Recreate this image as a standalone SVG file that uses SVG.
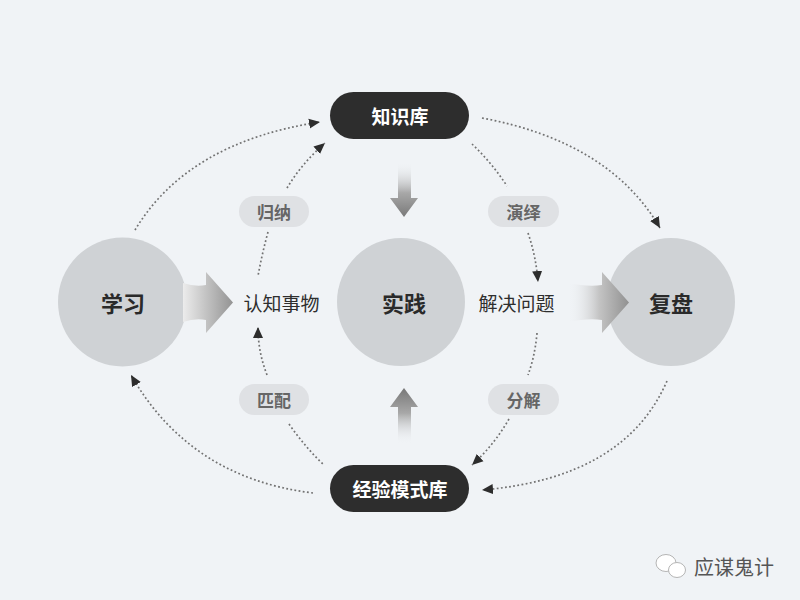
<svg xmlns="http://www.w3.org/2000/svg" width="800" height="600" viewBox="0 0 800 600">
<style>
.bg{fill:#f0f3f6}
.circle{fill:#cfd2d5}
.dark{fill:#2d2d2d}
.soft{fill:#dfe1e4}
.t{font-family:"Noto Sans CJK SC","Noto Sans",sans-serif;text-anchor:middle;dominant-baseline:central}
.tw{fill:#ffffff;font-size:19px;font-weight:bold}
.tc{fill:#2a2a2a;font-size:22px;font-weight:bold}
.tm{fill:#2e2e2e;font-size:19px}
.ts{fill:#666666;font-size:17px;font-weight:bold}
.dot{fill:none;stroke:#727272;stroke-width:1.7;stroke-dasharray:1.8 2.4}
.arr{marker-end:url(#ah)}
</style>
<defs>
<marker id="ah" markerUnits="userSpaceOnUse" markerWidth="12" markerHeight="12" refX="11" refY="5" orient="auto" viewBox="0 0 12 10">
<path d="M0,0 L11,5 L0,10 Z" fill="#2d2d2d"/>
</marker>
<linearGradient id="gL" x1="183" y1="0" x2="233" y2="0" gradientUnits="userSpaceOnUse">
<stop offset="0" stop-color="#ececec"/>
<stop offset="0.45" stop-color="#c4c4c4"/>
<stop offset="1" stop-color="#939393"/>
</linearGradient>
<linearGradient id="gR" x1="568" y1="0" x2="630" y2="0" gradientUnits="userSpaceOnUse">
<stop offset="0" stop-color="#f0f3f6" stop-opacity="0"/>
<stop offset="0.5" stop-color="#c4c4c4"/>
<stop offset="1" stop-color="#8f8f8f"/>
</linearGradient>
<linearGradient id="gD" x1="0" y1="162" x2="0" y2="218" gradientUnits="userSpaceOnUse">
<stop offset="0" stop-color="#f0f3f6" stop-opacity="0"/>
<stop offset="0.55" stop-color="#a8a8a8"/>
<stop offset="1" stop-color="#777777"/>
</linearGradient>
<linearGradient id="gU" x1="0" y1="444" x2="0" y2="388" gradientUnits="userSpaceOnUse">
<stop offset="0" stop-color="#f0f3f6" stop-opacity="0"/>
<stop offset="0.55" stop-color="#a8a8a8"/>
<stop offset="1" stop-color="#777777"/>
</linearGradient>
</defs>
<rect class="bg" x="0" y="0" width="800" height="600"/>

<g id="connectors">
<path class="dot arr" d="M135,230 Q188,142 320,122"/>
<path class="dot arr" d="M287,188 Q302,163 325,143"/>
<path class="dot" d="M268,232 Q262,254 258,276"/>
<path class="dot arr" d="M267,375 Q258,352 258,327"/>
<path class="dot" d="M289,424 Q305,447 324,465"/>
<path class="dot arr" d="M313,493 Q190,478 131,375"/>
<path class="dot arr" d="M482,118 Q610,142 660,228"/>
<path class="dot" d="M472,144 Q492,163 507,186"/>
<path class="dot arr" d="M528,233 Q536,256 538,282"/>
<path class="dot" d="M537,333 Q535,356 528,375"/>
<path class="dot arr" d="M509,419 Q494,445 472,465"/>
<path class="dot arr" d="M667,381 Q625,478 482,490"/>
</g>

<g id="node-xuexi">
<circle class="circle" cx="122.5" cy="302" r="64.5"/>
<text class="t tc" x="123" y="302">学习</text>
</g>
<g id="arrow-left">
<path d="M183,283 Q195,287 206,285 L206,272 L233,302.5 L206,333 L206,320 Q195,318 183,322 Z" fill="url(#gL)"/>
</g>
<g id="node-shijian">
<circle class="circle" cx="401" cy="302" r="64"/>
<text class="t tc" x="404" y="302">实践</text>
</g>
<g id="node-fupan">
<circle class="circle" cx="671" cy="302" r="64"/>
<text class="t tc" x="671" y="302">复盘</text>
</g>
<g id="arrow-right">
<path d="M568,283 Q588,287 602,285 L602,272 L629,302.5 L602,333 L602,320 Q588,318 568,322 Z" fill="url(#gR)"/>
</g>
<g id="arrow-down">
<path d="M398,162 L411,162 L411,198 L418,198 L404,217 L390,198 L398,198 Z" fill="url(#gD)"/>
</g>
<g id="arrow-up">
<path d="M398,444 L411,444 L411,407 L418,407 L404,388 L390,407 L398,407 Z" fill="url(#gU)"/>
</g>

<g id="node-zhishiku">
<rect class="dark" x="330" y="92" width="139" height="47" rx="23.5"/>
<text class="t tw" x="400" y="115.5">知识库</text>
</g>
<g id="node-jingyan">
<rect class="dark" x="330" y="465" width="139" height="47" rx="23.5"/>
<text class="t tw" x="400" y="488.5">经验模式库</text>
</g>

<g id="label-renzhi">
<text class="t tm" x="281.5" y="302">认知事物</text>
</g>
<g id="label-jiejue">
<text class="t tm" x="516.5" y="302">解决问题</text>
</g>

<g id="pill-guina">
<rect class="soft" x="239" y="196" width="70" height="31" rx="15.5"/>
<text class="t ts" x="274" y="211.5">归纳</text>
</g>
<g id="pill-yanyi">
<rect class="soft" x="488" y="196" width="71" height="31" rx="15.5"/>
<text class="t ts" x="523.5" y="211.5">演绎</text>
</g>
<g id="pill-pipei">
<rect class="soft" x="239" y="384" width="70" height="31" rx="15.5"/>
<text class="t ts" x="274" y="399.5">匹配</text>
</g>
<g id="pill-fenjie">
<rect class="soft" x="488" y="384" width="71" height="31" rx="15.5"/>
<text class="t ts" x="523.5" y="399.5">分解</text>
</g>

<g id="watermark">
<ellipse cx="666" cy="563" rx="10" ry="8.5" fill="#ffffff" stroke="#b5b5b5" stroke-width="1"/>
<ellipse cx="677" cy="570" rx="8.5" ry="7.5" fill="#ffffff" stroke="#b5b5b5" stroke-width="1"/>
<text class="t" x="734" y="566" style="font-size:20px;fill:#555555">应谋鬼计</text>
</g>
</svg>
